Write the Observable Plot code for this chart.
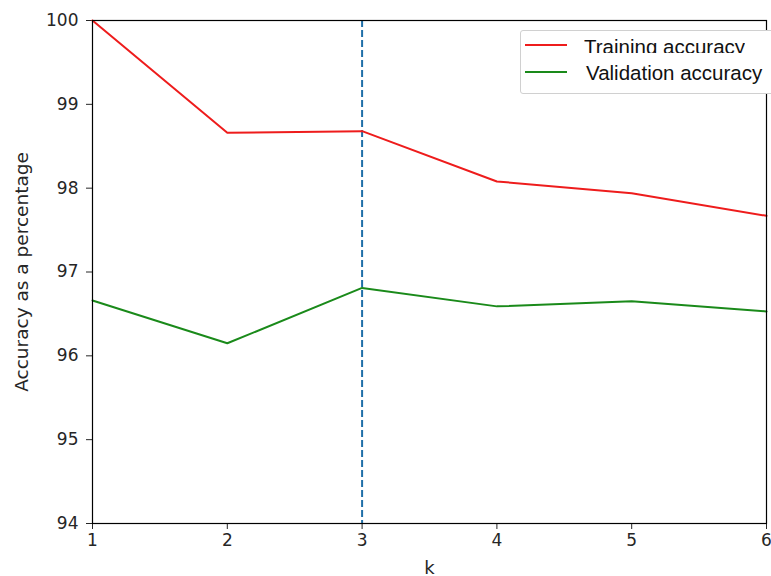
<!DOCTYPE html>
<html>
<head>
<meta charset="utf-8">
<script src="https://cdn.jsdelivr.net/npm/d3@7"></script>
<script src="https://cdn.jsdelivr.net/npm/@observablehq/plot@0.6"></script>
<style>
  html, body { margin: 0; padding: 0; background: #fff; overflow: hidden; }
  #wrap { position: relative; width: 771px; height: 576px; }
  .legend { position: absolute; left: 520px; top: 30px; width: 270px; height: 62px;
    border: 1px solid #d0d0d0; border-radius: 3px; background: #fff;
    font-family: "Liberation Sans", Arial, sans-serif; font-size: 20.5px; color: #111; }
  .sw { position: absolute; left: 4px; width: 42px; height: 2px; }
  .clip { position: absolute; left: 63px; top: 3px; height: 19px; overflow: hidden; line-height: 26px; white-space: nowrap; }
  .patch { position: absolute; left: 52px; top: 22px; width: 230px; height: 40px; background: #fff; }
  .vtxt { position: absolute; left: 13px; top: 7px; line-height: 26px; white-space: nowrap; }
</style>
</head>
<body>
<div id="wrap"></div>
<script>
const ks = [1, 2, 3, 4, 5, 6];
const trainAcc = [100, 98.66, 98.68, 98.08, 97.94, 97.67];
const valAcc = [96.66, 96.15, 96.81, 96.59, 96.65, 96.53];
const bestK = 3;
const seriesNames = ["Training accuracy", "Validation accuracy"];
const seriesColors = ["#ee1c1c", "#1a8a1a"];

const rows = [];
ks.forEach((k, i) => {
  rows.push({k, acc: trainAcc[i], s: seriesNames[0]});
  rows.push({k, acc: valAcc[i], s: seriesNames[1]});
});

const chart = Plot.plot({
  width: 771,
  height: 576,
  marginLeft: 92,
  marginRight: 5,
  marginTop: 20,
  marginBottom: 53,
  style: {fontFamily: "DejaVu Sans", fontSize: "17px", color: "#262626", background: "#fff"},
  x: {domain: [1, 6], ticks: ks, tickFormat: d3.format("d"), label: "k", labelAnchor: "center", labelArrow: "none", labelOffset: 50, tickSize: 6, tickPadding: 4},
  y: {domain: [94, 100], ticks: [94, 95, 96, 97, 98, 99, 100], tickFormat: d3.format("d"), label: "Accuracy as a percentage", labelAnchor: "center", labelArrow: "none", labelOffset: 78, tickSize: 6, tickPadding: 8},
  color: {domain: seriesNames, range: seriesColors},
  marks: [
    Plot.ruleX([bestK], {stroke: "#1f6fa8", strokeWidth: 2, strokeDasharray: "7,3"}),
    Plot.line(rows, {x: "k", y: "acc", z: "s", stroke: "s", strokeWidth: 2}),
    Plot.frame({stroke: "#000", strokeWidth: 1.2})
  ]
});
d3.select(chart).select('[aria-label="y-axis label"]').attr("font-size", "18.5px");
d3.select(chart).select('[aria-label="x-axis label"]').attr("font-size", "18px");
document.getElementById("wrap").appendChild(chart);

const lg = document.createElement("div");
lg.className = "legend";
lg.innerHTML =
  `<div class="sw" style="top:13px;background:${seriesColors[0]}"></div>` +
  `<div class="clip">${seriesNames[0]}</div>` +
  `<div class="patch"><div class="sw" style="top:18px;left:-48px;background:${seriesColors[1]}"></div><div class="vtxt">${seriesNames[1]}</div></div>`;
document.getElementById("wrap").appendChild(lg);
</script>
</body>
</html>
